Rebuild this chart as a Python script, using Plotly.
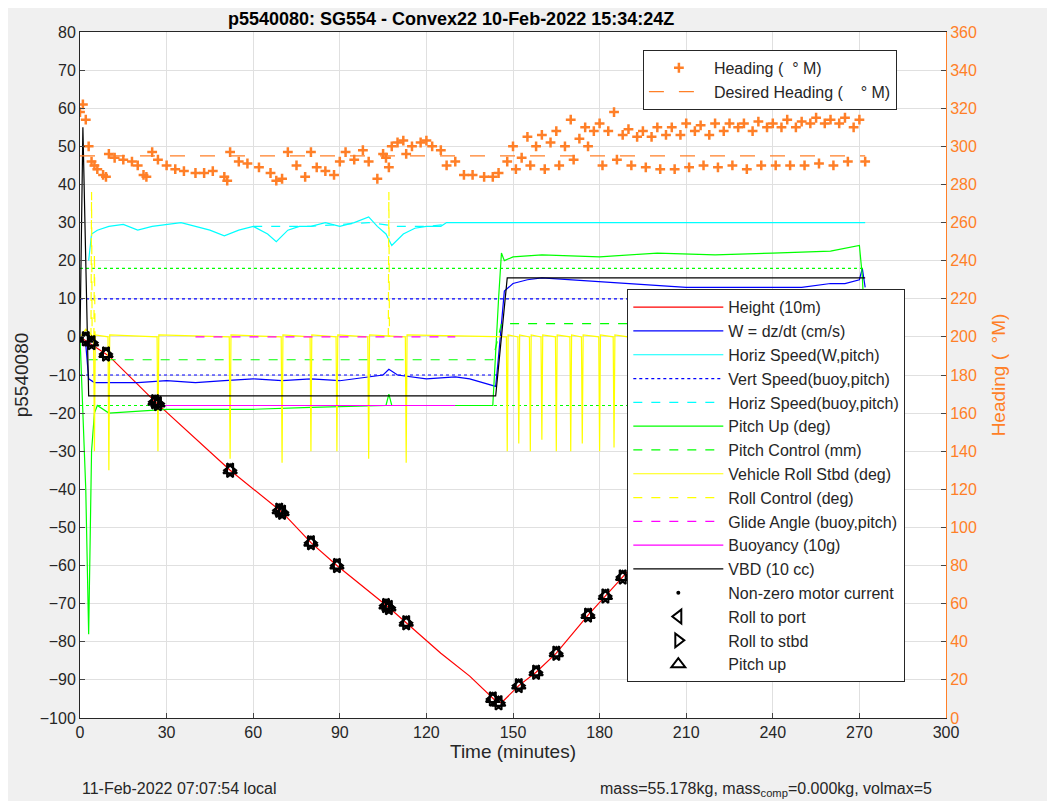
import plotly.graph_objects as go

# ---- data ----
height_t = [0, 2, 10, 26, 52, 70, 80, 89, 107, 113, 125, 135, 144, 146, 152, 158, 165, 176, 182, 188, 194, 200, 208, 212, 218, 222, 229, 235, 241, 247, 253, 259, 265, 270, 272]
height_v = [0, -1, -5, -17, -35, -46, -54, -60, -71, -75, -83, -89, -95.5, -96, -91.5, -88, -83, -73, -68, -63, -58, -52.5, -47, -44.5, -40, -36, -31, -27, -23, -19, -15, -10, -6, -2.5, -1]

mark_t = [2, 4, 9, 26, 27, 52, 69, 70, 80, 89, 106, 107, 113, 143, 145, 152, 158, 165, 176, 182, 188, 194, 200, 204, 208, 212, 218, 222, 226, 229, 232, 235, 238, 241, 244, 247, 250, 253, 256, 259, 262, 265, 268, 270, 272]
mark_v = [-0.5, -1.5, -4.5, -17, -17.5, -35, -45.5, -46, -54, -60, -70.5, -71, -75, -95, -96, -91.5, -88, -83, -73, -68, -63, -58, -52.5, -49, -47, -44.5, -40, -36, -33, -31, -29, -27, -25, -23, -21, -19, -17, -15, -12, -10, -8, -6, -4, -2.5, -1]

w_t = [0, 2, 3, 5, 10, 20, 30, 40, 50, 60, 70, 80, 90, 100, 105, 107, 110, 120, 130, 135, 140, 144, 145, 147, 150, 155, 160, 170, 180, 190, 200, 210, 220, 230, 240, 250, 260, 265, 270, 271, 272]
w_v = [0, -2, -11, -12, -12, -12, -11.5, -12, -11.5, -11, -11.5, -11, -11.5, -10.5, -10, -8.5, -10, -11, -10.5, -11, -12, -13, -5, 12, 14, 15, 15.5, 15, 14.5, 14, 13.5, 13, 13, 13, 13, 13, 14, 14, 15, 18, 13]

hs_t = [3, 4, 6, 10, 15, 20, 25, 30, 35, 40, 45, 50, 55, 60, 65, 68, 72, 76, 80, 85, 90, 95, 100, 103, 106, 108, 112, 116, 120, 125, 127, 272]
hs_v = [20, 27, 28, 29, 29.5, 28, 29, 29.5, 30, 29, 28, 26.5, 28, 29, 27, 25, 28, 29, 29, 30, 29, 30, 31.5, 29, 27, 24, 27, 28.5, 29, 29, 30, 30]
hsb_t = [60, 70, 80, 90, 100, 110, 120, 127]
hsb_v = [29, 29, 29, 29.5, 30, 29, 29, 29.5]

pitch_t = [0, 2, 3, 4, 5, 6, 10, 20, 30, 40, 60, 80, 100, 106, 107, 108, 120, 143, 145, 146, 147, 150, 160, 180, 200, 220, 240, 260, 270, 271, 272]
pitch_v = [0, -40, -78, -30, -20, -18, -20, -19.5, -19, -19, -19, -18.5, -18, -18, -15, -18, -18, -18, 10, 22, 20, 21, 21.5, 21, 22, 21.5, 22, 22.5, 24, 16, 0]
pc_t = [3, 143, 146, 272]
pc_v = [-6, -6, 3.5, 3.5]

roll_spike_t = [5, 10, 27, 52, 70, 80, 89, 100, 113, 148, 152, 156, 160, 165, 170, 174, 180, 185, 190, 196, 200, 205, 210, 215, 220, 224, 228, 232, 236, 240, 244, 248, 252, 256, 260, 264, 268, 271]
roll_spike_v = [-30, -35, -30, -32, -33, -30, -30, -32, -33, -30, -28, -30, -27, -30, -30, -28, -30, -29, -32, -30, -30, -28, -32, -30, -33, -30, -32, -31, -30, -34, -30, -33, -32, -30, -34, -33, -30, -31]
roll_up_t = [4, 5, 107]
roll_up_v = [38, 22, 38]

vbd_t = [0, 1, 3, 144, 148, 272]
vbd_v = [0, 55, -15.5, -15.5, 15.5, 15.5]

glide_t = [25, 130]
glide_v = [-18, -18]
glide0_t = [40, 130]
glide0_v = [0, 0]

head_t = [0, 1, 2, 3, 4, 5, 6, 8, 9, 10, 12, 15, 18, 20, 22, 23, 25, 27, 30, 33, 36, 40, 43, 46, 50, 51, 52, 55, 58, 62, 66, 68, 70, 72, 75, 78, 80, 82, 85, 88, 90, 92, 95, 98, 100, 103, 105, 106, 107, 108, 110, 112, 113, 115, 118, 120, 122, 125, 127, 130, 133, 136, 140, 143, 145, 148,
          150, 151, 153, 155, 156, 158, 160, 161, 163, 165, 166, 168, 170, 171, 173, 175, 176, 178, 180, 181, 183, 185, 186, 188, 190, 191, 193, 195, 196, 198, 200, 201, 203, 205, 206, 208, 210, 211, 213, 215, 216, 218, 220, 221, 223, 225, 226, 228, 230, 231, 233, 235, 236, 238, 240, 241, 243, 245, 246, 248, 250, 251, 253, 255, 256, 258, 260, 261, 263, 265, 266, 268, 270, 272]
head_v = [318, 322, 314, 300, 292, 290, 288, 285, 284, 296, 294, 293, 292, 290, 285, 284, 297, 293, 290, 288, 287, 286, 286, 287, 284, 282, 297, 292, 291, 289, 286, 282, 283, 297, 290, 284, 297, 289, 287, 285, 292, 297, 293, 298, 292, 283, 296, 294, 289, 300, 302, 303, 296, 300, 302, 303, 300, 298, 290, 292, 285, 285, 284, 284, 286, 292,
          300, 288, 294, 305, 290, 300, 306, 288, 302, 308, 290, 300, 314, 293, 304, 310, 300, 308, 312, 290, 308, 318, 293, 306, 309, 290, 305, 308, 289, 305, 310, 288, 306, 310, 288, 306, 312, 289, 308, 311, 290, 306, 312, 289, 308, 312, 290, 310, 312, 288, 308, 313, 290, 310, 312, 290, 310, 314, 290, 310, 313, 290, 312, 315, 291, 312, 314, 290, 312, 315, 292, 310, 314, 292]
des_t = [0, 272]
des_v = [295, 295]

# ---- figure ----
fig = go.Figure()

def line(x, y, name, color, dash='solid', width=1.2, legend='legend', show=True):
    fig.add_trace(go.Scatter(x=x, y=y, mode='lines', name=name, legend=legend, showlegend=show,
                             line=dict(color=color, dash=dash, width=width)))

# roll traces built from spike lists
roll_x, roll_y = [0, 2], [0, 2]
for t, v in zip(roll_spike_t, roll_spike_v):
    roll_x += [t - 0.3, t, t + 0.3]
    roll_y += [0, v, 0.5]
roll_x.append(272)
roll_y.append(1)
rup_x, rup_y = [], []
for t, v in zip(roll_up_t, roll_up_v):
    rup_x += [t - 0.2, t, t + 0.2, None]
    rup_y += [0, v, 0, None]

line(height_t, height_v, 'Height (10m)', 'red')
line(w_t, w_v, 'W = dz/dt (cm/s)', 'blue')
line(hs_t, hs_v, 'Horiz Speed(W,pitch)', 'cyan')
line([0, 145, None, 0, 272], [-10, -10, None, 10, 10], 'Vert Speed(buoy,pitch)', 'blue', dash='dot')
line(hsb_t, hsb_v, 'Horiz Speed(buoy,pitch)', 'cyan', dash='dash')
line(pitch_t, pitch_v, 'Pitch Up (deg)', 'lime')
line(pc_t, pc_v, 'Pitch Control (mm)', 'lime', dash='dash')
line([0, 272, None, 0, 272], [18, 18, None, -18, -18], 'pitch guide', 'lime', dash='dot', show=False)
line(roll_x, roll_y, 'Vehicle Roll Stbd (deg)', 'yellow')
line(rup_x, rup_y, 'Roll Control (deg)', 'yellow', dash='dash')
line(glide0_t, glide0_v, 'Glide Angle (buoy,pitch)', 'magenta', dash='dash')
line(glide_t, glide_v, 'Buoyancy (10g)', 'magenta')
line(vbd_t, vbd_v, 'VBD (10 cc)', 'black')
fig.add_trace(go.Scatter(x=[None], y=[None], mode='markers', name='Non-zero motor current',
                         marker=dict(color='black', size=4)))
fig.add_trace(go.Scatter(x=mark_t, y=mark_v, mode='markers', name='Roll to port',
                         marker=dict(symbol='triangle-left-open', color='black', size=12, line=dict(width=2))))
fig.add_trace(go.Scatter(x=mark_t, y=mark_v, mode='markers', name='Roll to stbd',
                         marker=dict(symbol='triangle-right-open', color='black', size=12, line=dict(width=2))))
fig.add_trace(go.Scatter(x=mark_t, y=mark_v, mode='markers', name='Pitch up',
                         marker=dict(symbol='triangle-up-open', color='black', size=12, line=dict(width=2))))

fig.add_trace(go.Scatter(x=head_t, y=head_v, mode='markers', name='Heading (  \u00b0 M)', yaxis='y2', legend='legend2',
                         marker=dict(symbol='cross-thin-open', color='#ff7f27', size=7, line=dict(width=2.5, color='#ff7f27'))))
fig.add_trace(go.Scatter(x=des_t, y=des_v, mode='lines', name='Desired Heading (    \u00b0 M)', yaxis='y2', legend='legend2',
                         line=dict(color='#ff7f27', dash='longdash', width=1.2)))

font = dict(family='Liberation Sans, Arial', size=16, color='#262626')
fig.update_layout(
    width=1055, height=801,
    margin=dict(l=72, r=117, t=24, b=91),
    paper_bgcolor='#f0f0f0', plot_bgcolor='white',
    font=font,
    title=dict(text='<b>p5540080: SG554 - Convex22 10-Feb-2022 15:34:24Z</b>', x=0.42, y=0.995, font=dict(size=18, color='black')),
    xaxis=dict(range=[0, 300], dtick=30, title=dict(text='Time (minutes)', standoff=2), showgrid=True, gridcolor='#e0e0e0',
               showline=True, linecolor='#262626', mirror=True, ticks='inside', zeroline=False, automargin=False),
    yaxis=dict(range=[-100, 80], dtick=10, title=dict(text='p5540080', standoff=6), showgrid=True, gridcolor='#e0e0e0',
               showline=True, linecolor='#262626', ticks='inside', zeroline=False, automargin=False),
    yaxis2=dict(range=[0, 360], dtick=20, overlaying='y', side='right', title=dict(text='Heading (  \u00b0M)', font=dict(color='#ff7f27')),
                tickfont=dict(color='#ff7f27'), showgrid=False, showline=True, linecolor='#ff7f27', ticks='inside', zeroline=False,
                automargin=False),
    legend=dict(x=0.632, y=0.625, xanchor='left', yanchor='top', bgcolor='white', bordercolor='#262626', borderwidth=1,
                font=dict(size=16), tracegroupgap=0, itemwidth=90),
    legend2=dict(x=0.65, y=0.974, xanchor='left', yanchor='top', bgcolor='white', bordercolor='#262626', borderwidth=1,
                 font=dict(size=16), itemwidth=60),
    annotations=[
        dict(text='11-Feb-2022 07:07:54 local', xref='paper', yref='paper', x=0.0, y=-0.088, xanchor='left', yanchor='top',
             showarrow=False, font=dict(size=16)),
        dict(text='mass=55.178kg, mass<sub>comp</sub>=0.000kg, volmax=5', xref='paper', yref='paper', x=0.598, y=-0.088,
             xanchor='left', yanchor='top', showarrow=False, font=dict(size=16)),
    ],
)

fig.write_html("out.html")
